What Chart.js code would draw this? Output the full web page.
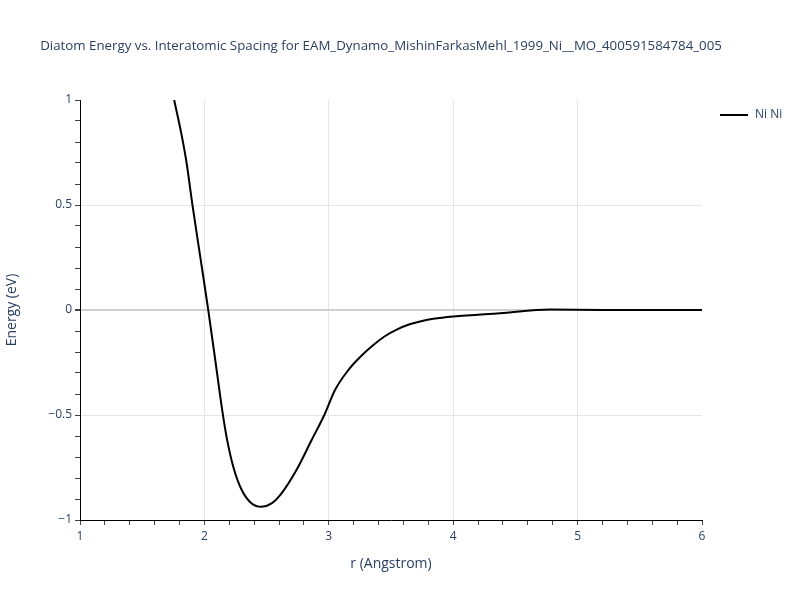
<!DOCTYPE html>
<html lang="en">
<head>
    <meta charset="UTF-8">
    <title>Diatom Energy vs. Interatomic Spacing</title>
    <script src="https://cdn.jsdelivr.net/npm/chart.js"></script>
    <style>
        body { margin: 0; background: #fff; }
        #wrap { width: 800px; height: 600px; }
    </style>
</head>
<body>
    <div id="wrap">
        <canvas id="energyChart" width="800" height="600"></canvas>
    </div>

    <script>
        const chartTitle = 'Diatom Energy vs. Interatomic Spacing for EAM_Dynamo_MishinFarkasMehl_1999_Ni__MO_400591584784_005';
        const seriesName = 'Ni Ni';

        // r (Angstrom) and energy (eV)
        const rValues = [1.757, 1.817, 1.857, 1.902, 1.965, 2.031, 2.09, 2.144, 2.18, 2.232, 2.30, 2.38, 2.46,
            2.54, 2.62, 2.74, 2.862, 2.964, 3.05, 3.157, 3.25, 3.358, 3.45, 3.55, 3.65, 3.75, 3.84, 4.0, 4.376, 4.78, 5.2, 6.0];
        const energyValues = [1.0, 0.833, 0.7, 0.508, 0.26, 0.0, -0.25, -0.48, -0.61, -0.746, -0.857, -0.921, -0.937,
            -0.921, -0.873, -0.762, -0.619, -0.50, -0.381, -0.286, -0.225, -0.167, -0.125, -0.092, -0.068, -0.052, -0.042, -0.031, -0.015, 0.002, 0.0, 0.0];

        const xTickLabels = [1, 2, 3, 4, 5, 6];
        const yTickLabels = [-1, -0.5, 0, 0.5, 1];

        const textColor = '#2a3f5f';
        const gridColor = '#e5e5e5';
        const zeroColor = '#d0d0d0';
        const font = '"Open Sans", sans-serif';

        function isLabelled(v, list) {
            return list.some(t => Math.abs(t - v) < 1e-6);
        }
        function fmt(v) {
            const s = String(Math.round(v * 10) / 10);
            return s.replace('-', '\u2212');
        }

        const overlay = {
            id: 'overlay',
            afterDraw(chart) {
                const ctx = chart.ctx;
                ctx.save();
                ctx.fillStyle = textColor;
                ctx.textBaseline = 'middle';
                ctx.font = '13.3px ' + font;
                ctx.textAlign = 'center';
                ctx.fillText(chartTitle, 381, 46);

                // legend
                ctx.strokeStyle = '#000';
                ctx.lineWidth = 2;
                ctx.beginPath();
                ctx.moveTo(720, 115);
                ctx.lineTo(748, 115);
                ctx.stroke();
                ctx.font = '12px ' + font;
                ctx.textAlign = 'left';
                ctx.fillText(seriesName, 755, 115);
                ctx.restore();
            }
        };

        const ctx = document.getElementById('energyChart').getContext('2d');
        new Chart(ctx, {
            type: 'scatter',
            data: {
                datasets: [{
                    label: seriesName,
                    data: rValues.map((r, i) => ({ x: r, y: energyValues[i] })),
                    showLine: true,
                    borderColor: '#000',
                    borderWidth: 2,
                    pointRadius: 0,
                    cubicInterpolationMode: 'monotone'
                }]
            },
            plugins: [overlay],
            options: {
                responsive: false,
                animation: false,
                layout: { padding: { left: 0, right: 98, top: 100, bottom: 0 } },
                plugins: {
                    legend: { display: false },
                    title: { display: false },
                    tooltip: { enabled: false }
                },
                scales: {
                    x: {
                        type: 'linear',
                        min: 1,
                        max: 6,
                        afterFit(scale) { scale.height = 80; },
                        afterBuildTicks(scale) {
                            const t = [];
                            for (let i = 0; i <= 25; i++) t.push({ value: 1 + i * 0.2 });
                            scale.ticks = t;
                        },
                        border: { display: true, color: '#000', width: 1 },
                        grid: {
                            color: c => {
                                const v = c.tick ? c.tick.value : 0;
                                return (isLabelled(v, [2, 3, 4, 5])) ? gridColor : 'rgba(0,0,0,0)';
                            },
                            tickColor: '#444',
                            tickLength: 5,
                            lineWidth: 1
                        },
                        ticks: {
                            autoSkip: false,
                            maxRotation: 0,
                            padding: 4,
                            color: textColor,
                            font: { family: font, size: 12 },
                            callback: v => isLabelled(v, xTickLabels) ? fmt(v) : ''
                        },
                        title: {
                            display: true,
                            text: 'r (Angstrom)',
                            color: textColor,
                            font: { family: font, size: 14 },
                            padding: { top: 4, bottom: 28 }
                        }
                    },
                    y: {
                        type: 'linear',
                        min: -1,
                        max: 1,
                        afterFit(scale) { scale.width = 80; },
                        afterBuildTicks(scale) {
                            const t = [];
                            for (let i = 0; i <= 20; i++) t.push({ value: -1 + i * 0.1 });
                            scale.ticks = t;
                        },
                        border: { display: true, color: '#000', width: 1 },
                        grid: {
                            color: c => {
                                const v = c.tick ? c.tick.value : 0;
                                if (Math.abs(v) < 1e-6) return zeroColor;
                                return isLabelled(v, [-0.5, 0.5]) ? gridColor : 'rgba(0,0,0,0)';
                            },
                            lineWidth: c => (c.tick && Math.abs(c.tick.value) < 1e-6) ? 2 : 1,
                            tickColor: '#444',
                            tickLength: 5
                        },
                        ticks: {
                            autoSkip: false,
                            padding: 3,
                            color: textColor,
                            font: { family: font, size: 12 },
                            callback: v => isLabelled(v, yTickLabels) ? fmt(v) : ''
                        },
                        title: {
                            display: true,
                            text: 'Energy (eV)',
                            color: textColor,
                            font: { family: font, size: 14 },
                            padding: { top: 4, bottom: 4 }
                        }
                    }
                }
            }
        });
    </script>
</body>
</html>
